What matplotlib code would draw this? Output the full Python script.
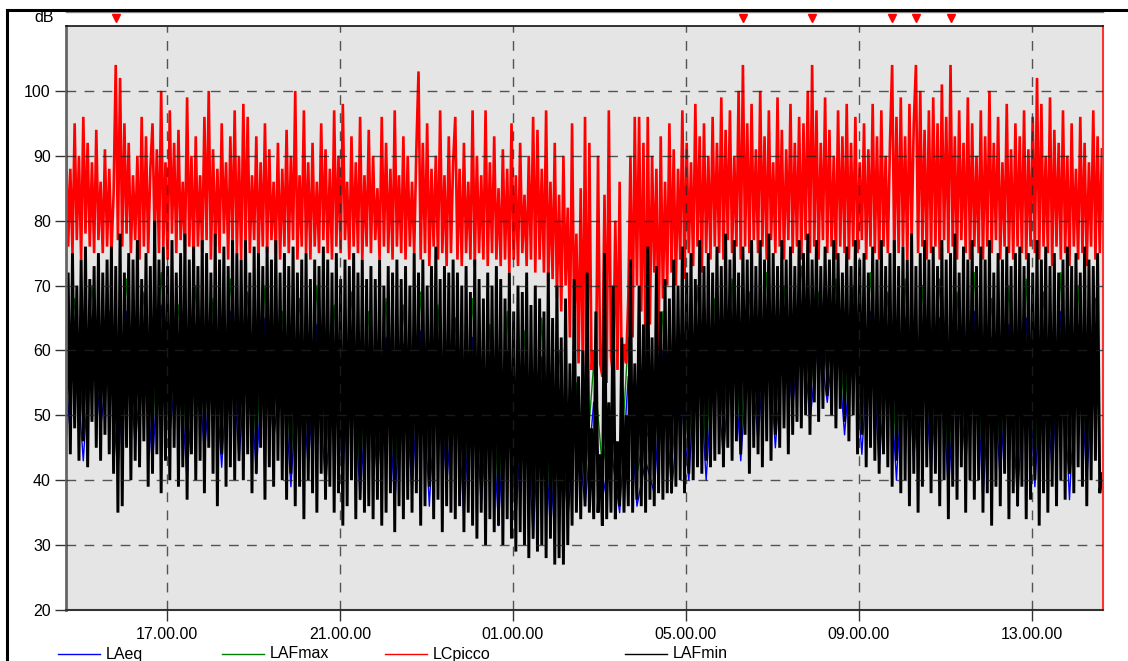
import matplotlib
matplotlib.use("Agg")
import matplotlib.pyplot as plt
import matplotlib.dates as mdates
from matplotlib.lines import Line2D
import pandas as pd
import numpy as np

plt.rcParams['font.family'] = ['Liberation Sans', 'DejaVu Sans']

# ---------------- data (dB), 3-minute samples from 14:40 ----------------
start_time = "2020-01-01 14:40"
fine_step = "3min"
coarse_step = "12min"

LCpicco = [
    93, 76, 88, 75, 95, 77, 90, 74, 96, 78, 92, 76, 89, 75, 94, 77, 86, 75, 91, 76,
    88, 75, 84, 104, 77, 102, 76, 95, 78, 92, 75, 87, 77, 90, 74, 96, 76, 93, 75, 88,
    95, 77, 91, 75, 100, 76, 89, 74, 97, 78, 92, 75, 94, 77, 86, 75, 99, 76, 90, 74,
    93, 76, 87, 75, 96, 77, 100, 74, 91, 76, 88, 75, 95, 78, 89, 74, 93, 76, 97, 75,
    90, 74, 98, 76, 96, 75, 87, 77, 93, 74, 89, 76, 95, 75, 91, 77, 86, 75, 92, 74,
    88, 76, 94, 75, 90, 77, 100, 74, 87, 76, 97, 75, 89, 74, 92, 76, 86, 75, 95, 77,
    91, 75, 88, 74, 97, 76, 90, 75, 98, 77, 86, 74, 93, 76, 89, 75, 96, 74, 87, 76,
    94, 75, 90, 77, 85, 74, 96, 76, 92, 75, 88, 74, 97, 76, 87, 75, 93, 74, 90, 76,
    86, 75, 91, 103, 74, 92, 75, 95, 73, 88, 76, 90, 74, 97, 75, 87, 73, 93, 75, 89,
    96, 74, 88, 73, 92, 75, 86, 74, 97, 73, 90, 75, 87, 74, 97, 73, 89, 75, 93, 74,
    85, 73, 91, 74, 88, 72, 95, 74, 87, 73, 92, 75, 84, 73, 90, 74, 96, 72, 94, 74,
    88, 72, 97, 70, 86, 71, 92, 68, 84, 66, 90, 70, 82, 62, 95, 64, 78, 58, 85, 56,
    96, 55, 92, 57, 60, 54, 90, 58, 56, 84, 55, 97, 59, 56, 80, 57, 86, 55, 61, 58,
    68, 90, 62, 96, 70, 96, 66, 92, 57, 96, 64, 90, 72, 88, 60, 93, 68, 86, 70, 95,
    72, 91, 70, 88, 74, 97, 71, 92, 75, 89, 73, 98, 76, 93, 72, 95, 75, 90, 74, 96,
    76, 92, 75, 99, 74, 94, 77, 97, 75, 90, 76, 100, 74, 104, 76, 95, 75, 98, 77, 91,
    75, 100, 76, 93, 74, 97, 77, 89, 75, 99, 76, 94, 74, 91, 77, 98, 75, 92, 76, 96,
    74, 95, 77, 100, 75, 104, 76, 97, 74, 92, 77, 99, 75, 94, 76, 90, 74, 97, 76, 93,
    75, 98, 74, 92, 76, 96, 75, 89, 77, 95, 74, 91, 76, 98, 75, 93, 74, 97, 76, 90,
    75, 92, 104, 74, 96, 75, 99, 76, 93, 74, 98, 77, 95, 104, 75, 100, 76, 94, 74, 97,
    75, 99, 76, 95, 74, 101, 77, 96, 75, 104, 76, 93, 74, 97, 77, 92, 75, 99, 74, 95,
    76, 90, 75, 97, 74, 93, 76, 100, 75, 92, 77, 96, 74, 89, 76, 98, 75, 91, 74, 95,
    76, 93, 75, 97, 74, 91, 76, 96, 75, 102, 74, 98, 76, 90, 75, 99, 73, 94, 76, 92,
    74, 97, 75, 90, 73, 95, 76, 88, 74, 96, 75, 92, 73, 89, 76, 97, 74, 93, 75, 91,
]

LAFmin = [
    47, 72, 44, 75, 48, 70, 43, 74, 46, 76, 42, 71, 49, 73, 45, 75, 43, 72, 47, 74,
    44, 76, 41, 73, 35, 78, 36, 72, 45, 75, 40, 74, 43, 77, 42, 71, 46, 75, 39, 73,
    41, 80, 44, 74, 38, 76, 43, 73, 40, 77, 45, 72, 39, 75, 42, 78, 37, 74, 44, 76,
    40, 73, 43, 77, 38, 75, 45, 72, 41, 78, 36, 74, 44, 76, 39, 73, 42, 77, 40, 75,
    43, 74, 40, 77, 44, 72, 38, 76, 41, 75, 45, 73, 37, 76, 42, 74, 39, 77, 43, 72,
    40, 75, 37, 73, 41, 76, 36, 72, 39, 74, 34, 75, 40, 71, 38, 74, 35, 73, 41, 76,
    37, 74, 39, 72, 35, 75, 38, 71, 33, 74, 36, 73, 40, 75, 34, 72, 37, 74, 35, 71,
    36, 73, 34, 71, 37, 74, 33, 70, 35, 73, 38, 72, 32, 74, 36, 71, 34, 73, 37, 70,
    35, 75, 38, 72, 33, 74, 36, 70, 39, 73, 34, 76, 37, 71, 32, 73, 36, 72, 35, 74,
    34, 72, 36, 70, 32, 73, 35, 69, 33, 74, 31, 71, 35, 68, 30, 72, 34, 70, 32, 73,
    33, 71, 30, 68, 34, 72, 31, 66, 29, 70, 32, 69, 30, 72, 28, 67, 31, 70, 29, 68,
    30, 66, 28, 72, 31, 65, 27, 70, 28, 62, 27, 68, 30, 58, 33, 71, 35, 56, 34, 60,
    36, 72, 35, 48, 34, 66, 35, 44, 33, 75, 34, 52, 35, 70, 34, 46, 36, 62, 35, 50,
    36, 74, 35, 58, 37, 70, 36, 64, 35, 76, 37, 62, 36, 73, 38, 66, 37, 71, 38, 68,
    38, 74, 39, 70, 40, 76, 38, 72, 41, 75, 40, 71, 42, 77, 41, 73, 43, 75, 42, 72,
    43, 76, 44, 73, 42, 78, 45, 74, 43, 77, 46, 72, 44, 76, 47, 74, 41, 77, 45, 73,
    44, 77, 42, 74, 46, 78, 43, 75, 47, 73, 45, 77, 48, 74, 44, 76, 47, 73, 49, 77,
    48, 75, 50, 78, 47, 74, 52, 77, 49, 73, 51, 76, 53, 74, 50, 77, 48, 75, 51, 72,
    49, 76, 46, 73, 50, 77, 44, 74, 47, 75, 42, 72, 45, 76, 43, 74, 41, 77, 44, 73,
    42, 75, 39, 77, 43, 73, 38, 76, 40, 74, 36, 78, 41, 73, 35, 75, 39, 77, 42, 74,
    38, 76, 41, 73, 36, 77, 40, 74, 34, 75, 39, 78, 37, 72, 42, 76, 35, 74, 40, 77,
    37, 73, 40, 76, 35, 74, 38, 77, 33, 72, 39, 75, 36, 74, 41, 76, 34, 73, 38, 75,
    36, 76, 39, 73, 34, 75, 37, 72, 40, 77, 33, 74, 38, 76, 35, 73, 39, 75, 36, 72,
    40, 74, 37, 76, 41, 73, 38, 75, 42, 72, 39, 76, 36, 74, 40, 73, 43, 75, 38, 41,
]

# 12-minute samples
LAFmax = [
    52, 68, 48, 70, 55, 66, 45, 71, 50, 69, 47, 72, 53, 67, 44, 70, 49, 68, 46, 71,
    48, 69, 45, 70, 51, 66, 43, 68, 47, 70, 42, 67, 46, 69, 41, 66, 45, 68, 40, 67,
    43, 69, 40, 67, 44, 65, 38, 68, 41, 64, 37, 66, 39, 63, 35, 65, 36, 60, 38, 55,
    40, 58, 42, 50, 39, 62, 41, 48, 44, 66, 42, 60, 45, 70, 44, 68, 47, 71, 46, 69,
    50, 72, 48, 70, 55, 73, 52, 69, 56, 71, 50, 70, 48, 72, 46, 69, 44, 71, 47, 70,
    45, 71, 42, 69, 46, 72, 41, 68, 44, 70, 40, 71, 43, 69, 45, 72, 41, 70, 44, 68,
]

LAeq = [
    46, 62, 43, 65, 48, 60, 41, 66, 45, 63, 42, 67, 47, 61, 40, 64, 44, 62, 42, 66,
    43, 63, 41, 65, 46, 60, 39, 62, 42, 64, 38, 61, 41, 63, 37, 60, 40, 62, 36, 61,
    38, 63, 36, 61, 39, 59, 34, 62, 36, 58, 33, 60, 34, 57, 31, 59, 32, 54, 34, 50,
    36, 52, 37, 45, 35, 56, 36, 43, 38, 60, 38, 54, 40, 64, 40, 62, 43, 65, 43, 63,
    46, 66, 45, 64, 51, 67, 49, 63, 52, 65, 47, 64, 44, 66, 42, 63, 40, 65, 43, 64,
    41, 65, 38, 63, 42, 66, 37, 62, 40, 64, 36, 65, 39, 63, 41, 66, 37, 64, 40, 62,
]

y_ticks = [20, 30, 40, 50, 60, 70, 80, 90, 100]
tick_hours = [1, 5, 9, 13, 17, 21]
legend_labels = ["LAeq", "LAFmax", "LCpicco", "LAFmin"]
marker_threshold = 103.5

# ---------------- build ----------------
t_fine = pd.date_range(start_time, periods=len(LCpicco), freq=fine_step)
t_coarse = pd.date_range(start_time, periods=len(LAeq), freq=coarse_step)

W, H = 1128, 661
fig = plt.figure(figsize=(W / 100, H / 100), dpi=100)
fig.patch.set_facecolor("white")
L, R, T, B = 66, 1103, 26, 610
ax = fig.add_axes([L / W, (H - B) / H, (R - L) / W, (B - T) / H])
ax.set_facecolor("#e5e5e5")

c_blue, c_green, c_red, c_black = "#0000ff", "#008000", "#ff0000", "#000000"
ax.plot(t_coarse, LAeq, color=c_blue, lw=1.0, zorder=2)
ax.plot(t_coarse, LAFmax, color=c_green, lw=1.0, zorder=2.1)
ax.plot(t_fine, LCpicco, color=c_red, lw=1.9, zorder=2.2, solid_joinstyle="miter")
ax.plot(t_fine, LAFmin, color=c_black, lw=2.1, zorder=2.3, solid_joinstyle="miter")

ax.set_ylim(20, 110)
x0 = pd.Timestamp(start_time)
ax.set_xlim(x0, x0 + pd.Timedelta(hours=23, minutes=58, seconds=30))
ax.set_yticks(y_ticks)
ax.xaxis.set_major_locator(mdates.HourLocator(byhour=tick_hours))
ax.xaxis.set_major_formatter(mdates.DateFormatter("%H.%M.%S"))

# grid (dashed, drawn over the data)
for v in y_ticks[1:]:
    ax.axhline(v, color="#222222", lw=1.0, dashes=(7, 6), alpha=0.75, zorder=3)
for tk in ax.get_xticks():
    ax.axvline(tk, color="#222222", lw=1.0, dashes=(7, 6), alpha=0.75, zorder=3)

ax.tick_params(axis="both", direction="out", length=8, width=1, color="#333333",
               labelsize=11.5, pad=3)
ax.tick_params(axis="x", pad=4)
ax.spines["left"].set_color("#666666")
ax.spines["left"].set_linewidth(2)
ax.spines["bottom"].set_color("#333333")
ax.spines["bottom"].set_linewidth(1.5)
ax.spines["top"].set_color("#111111")
ax.spines["top"].set_linewidth(1.2)
ax.spines["right"].set_color("#ff3030")
ax.spines["right"].set_linewidth(1.5)

# peak markers above the plot
lc = np.array(LCpicco)
peak_times = t_fine[lc >= marker_threshold]
trans = matplotlib.transforms.blended_transform_factory(ax.transData, ax.transAxes)
ax.plot(peak_times, [1.0137] * len(peak_times), linestyle="none", marker="v",
        markersize=6, color=c_red, transform=trans, clip_on=False, zorder=5)
ax.plot([0, 1], [1.024, 1.024], color="#8a8a8a", lw=1, transform=ax.transAxes,
        clip_on=False)

# outer frame lines
fig.add_artist(Line2D([7 / W, 1.0], [(H - 10) / H, (H - 10) / H], color="black",
                      lw=2.2, transform=fig.transFigure))
fig.add_artist(Line2D([7 / W, 7 / W], [(H - 10) / H, 0], color="black",
                      lw=2.2, transform=fig.transFigure))

fig.text(44 / W, (H - 17) / H, "dB", ha="center", va="center", fontsize=11.5)

# legend drawn along the bottom edge
leg_x = [58, 222, 385, 625]
leg_c = [c_blue, c_green, c_red, c_black]
ly = (H - 654) / H
for xs, col, lab in zip(leg_x, leg_c, legend_labels):
    fig.add_artist(Line2D([xs / W, (xs + 42) / W], [ly, ly], color=col, lw=1,
                          transform=fig.transFigure))
    fig.text((xs + 48) / W, ly, lab, ha="left", va="center", fontsize=11.5)

fig.savefig("out.png", dpi=100)
